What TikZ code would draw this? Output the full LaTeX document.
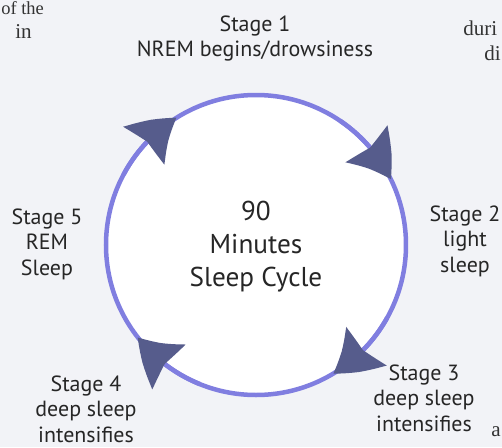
\documentclass[tikz,border=0pt]{standalone}
\usepackage{fontspec}
\setsansfont{PT Sans}
\newfontfamily\bookfont{Liberation Serif}
\usepackage{tikz}
\usetikzlibrary{arrows.meta, bending}
\usepackage{xcolor}
\definecolor{ringblue}{RGB}{128,126,224}
\definecolor{tipblue}{RGB}{86,92,140}
\definecolor{pagegray}{RGB}{242,243,247}

\begin{document}
\begin{tikzpicture}[
    stage/.style={font=\sffamily\fontsize{12.5}{14.5}\selectfont, align=center, text=black!85},
    book/.style={font=\bookfont\fontsize{12}{14}\selectfont, text=black!80, anchor=base west, inner sep=0pt},
    ringarrow/.style={draw=ringblue, line width=0.09cm,
      -{Stealth[length=0.86cm, width=1.1cm, inset=0.1cm, bend, color=tipblue]}}]
  % Page background and frame
  \fill[pagegray] (-5.12,-4.04) rectangle (4.92,4.9);
  \useasboundingbox (-5.12,-4.04) rectangle (4.92,4.9);

  % Bits of the book text at the edges
  \node[book, font=\bookfont\fontsize{10.5}{12}\selectfont] (bk1) at (-5.1,4.62) {of the};
  \node[book] (bk2) at (-4.82,4.14) {in};
  \node[book] (bk3) at (4.14,4.2) {duri};
  \node[book] (bk4) at (4.56,3.7) {di};
  \node[book] (bk5) at (4.7,-3.82) {a};

  % Cycle ring
  \filldraw[fill=white, draw=ringblue, line width=0.09cm] (0,0) circle (3);
  % Arrow heads (clockwise)
  \foreach \a in {122, 26, -59, 218}
    \draw[ringarrow] (\a+30:3) arc[start angle=\a+30, end angle=\a, radius=3];

  % Labels
  \node[font=\sffamily\fontsize{15.5}{18.8}\selectfont, align=center, text=black!85]
    (cycle) at (0,-0.04) {90\\Minutes\\Sleep Cycle};
  \node[stage] (stage1) at (-0.02,4.13) {Stage 1\\NREM begins/drowsiness};
  \node[stage] (stage2) at (4.18,0.08) {Stage 2\\light\\sleep};
  \node[stage] (stage3) at (3.36,-3.06) {Stage 3\\deep sleep\\intensifies};
  \node[stage] (stage4) at (-3.4,-3.28) {Stage 4\\deep sleep\\intensifies};
  \node[stage] (stage5) at (-4.18,0.02) {Stage 5\\REM\\Sleep};
\end{tikzpicture}
\end{document}
